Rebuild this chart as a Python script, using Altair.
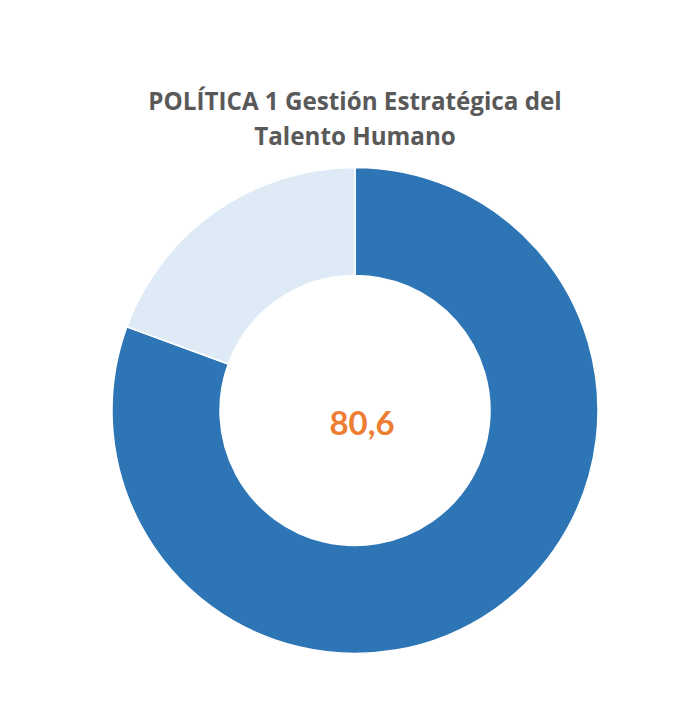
import altair as alt
import pandas as pd

categories = ["Cumplimiento", "Restante"]
values = [80.6, 19.4]
colors = ["#2E75B6", "#DEEBF7"]
title_lines = ["POLÍTICA 1 Gestión Estratégica del", "Talento Humano"]
center_label = ["80,6"]

df = pd.DataFrame({"cat": categories, "val": values, "order": [0, 1]})
df_title = pd.DataFrame({"t": title_lines, "line": [0, 1]})
df_center = pd.DataFrame({"t": center_label})

cx, cy = 347, 402.5

arc = alt.Chart(df).mark_arc(
    outerRadius=243, innerRadius=135, stroke="white", strokeWidth=1.5
).encode(
    theta=alt.Theta("val:Q", stack=True),
    order=alt.Order("order:Q"),
    color=alt.Color("cat:N", scale=alt.Scale(domain=categories, range=colors), legend=None),
    x=alt.value(cx), y=alt.value(cy),
)

title = alt.Chart(df_title).mark_text(
    font="Open Sans", fontSize=24.2, fontWeight="bold", color="#595959", baseline="alphabetic"
).encode(
    text="t:N",
    x=alt.value(cx),
    y=alt.Y("line:Q", scale=alt.Scale(domain=[0, 1], range=[102, 137]), axis=None),
)

center = alt.Chart(df_center).mark_text(
    font="Lato", fontSize=33, fontWeight="bold", color="#ED7D31", baseline="alphabetic"
).encode(text="t:N", x=alt.value(cx + 7), y=alt.value(cy + 24))

chart = alt.layer(arc, title, center).properties(
    width=658, height=691, padding=0, autosize=alt.AutoSizeParams(type="none")
).configure_view(stroke=None)

chart.save("out.html", embed_options={"renderer": "svg", "actions": False})
